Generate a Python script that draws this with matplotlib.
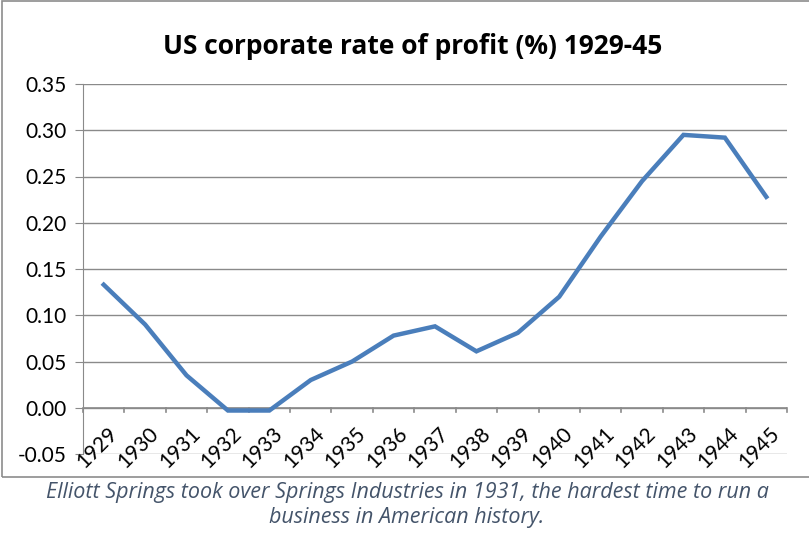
import matplotlib.pyplot as plt
from matplotlib.patches import Rectangle

years = ["1929", "1930", "1931", "1932", "1933", "1934", "1935", "1936", "1937",
         "1938", "1939", "1940", "1941", "1942", "1943", "1944", "1945"]
profit = [0.133, 0.090, 0.035, -0.003, -0.003, 0.030, 0.050, 0.078, 0.088,
          0.061, 0.081, 0.120, 0.185, 0.245, 0.295, 0.292, 0.228]
y_ticks = [-0.05, 0.0, 0.05, 0.10, 0.15, 0.20, 0.25, 0.30, 0.35]

title = "US corporate rate of profit (%) 1929-45"
caption = ("Elliott Springs took over Springs Industries in 1931, the hardest time to run a\n"
           "business in American history.")

W, H = 809, 533
fig = plt.figure(figsize=(W / 100, H / 100), dpi=100)
plt.rcParams['font.family'] = ['Lato', 'DejaVu Sans']

# chart border
fig.patches.append(Rectangle((2 / W, 1 - 477 / H), 1.0, 476 / H, transform=fig.transFigure,
                             fill=False, edgecolor="#8c8c8c", linewidth=1.2))

ax = fig.add_axes([83 / W, 1 - 454 / H, (787 - 83) / W, (454 - 84) / H])
grid_col = "#8a8a8a"

x = [i + 0.5 for i in range(len(years))]
ax.plot(x, profit, color="#4a7ebb", linewidth=3.2, solid_joinstyle="miter", zorder=3)

ax.set_xlim(0, len(years))
ax.set_ylim(-0.05, 0.35)
ax.set_yticks(y_ticks)
ax.set_yticklabels([f"{v:.2f}" for v in y_ticks], fontsize=15)
ax.yaxis.grid(True, color=grid_col, linewidth=1)
ax.set_axisbelow(True)
ax.tick_params(axis="y", length=6, color=grid_col, pad=6)

for s in ["top", "right", "bottom"]:
    ax.spines[s].set_visible(False)
ax.spines["left"].set_color(grid_col)

# category axis at zero
ax.axhline(0, color=grid_col, linewidth=1.2, zorder=2)
ax.set_xticks(range(len(years) + 1))
ax.set_xticklabels([])
ax.tick_params(axis="x", which="major", length=0)
for i in range(len(years) + 1):
    ax.plot([i, i], [0, -0.0045], color=grid_col, linewidth=1.2, clip_on=False, zorder=2)
for xi, lab in zip(x, years):
    ax.text(xi + 0.08, -0.017, lab, rotation=45, ha="right", va="top",
            rotation_mode="anchor", fontsize=15)

fig.text(413 / W, 1 - 46 / H, title, ha="center", va="center", fontsize=19, fontweight="bold",
         family=["Open Sans", "DejaVu Sans"])
fig.text(407 / W, 1 - 505 / H, caption, ha="center", va="center", fontsize=15.5,
         style="italic", color="#44546a", family=["Open Sans", "DejaVu Sans"], linespacing=1.25)

fig.savefig("out.png", dpi=100)
